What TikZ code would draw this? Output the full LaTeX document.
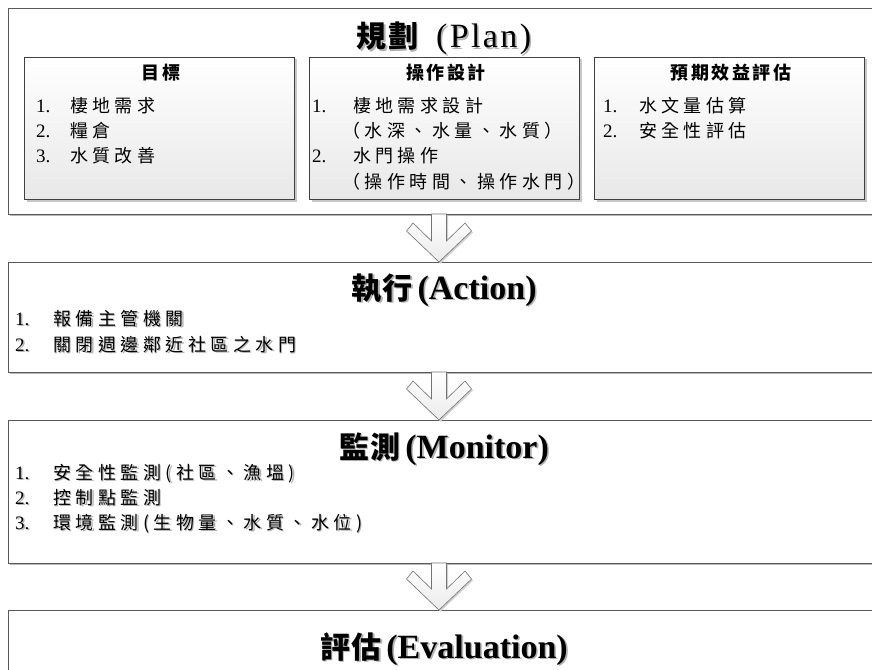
\documentclass[tikz,border=0pt]{standalone}
\usepackage{fontspec}
\setmainfont{Liberation Serif}
\newfontfamily\cjk{Noto Sans CJK TC}[LetterSpace=25]
\newfontfamily\cjkh{Noto Sans CJK TC}[LetterSpace=14]
\newfontfamily\cjkt{Noto Sans CJK TC}[LetterSpace=4]
\newfontfamily\numfont{Liberation Serif}
\newfontfamily\planfont{Liberation Serif}[LetterSpace=7]
\usetikzlibrary{shadows}
\newcommand\shd[2][black!30]{\makebox[0pt][l]{\hspace{1.6pt}\raisebox{-1.6pt}{\textcolor{#1}{#2}}}{#2}}
\newcommand\num[2]{\makebox[#1pt][l]{\numfont\fontsize{19}{22}\selectfont #2}}
\tikzset{
 outerbox/.style={draw=black!65, line width=0.8pt, fill=white, anchor=north west, inner sep=0pt, outer sep=0pt,
   drop shadow={shadow xshift=1.5pt, shadow yshift=-1.5pt, fill=black!28, opacity=1}},
 innerbox/.style={draw=black!75, line width=0.9pt, top color=white, bottom color=black!9, anchor=north west,
   inner sep=0pt, outer sep=0pt, minimum width=270pt, minimum height=142pt,
   drop shadow={shadow xshift=2.5pt, shadow yshift=-2.5pt, fill=black!22, opacity=1}},
 blockarr/.style={draw=black!55, line width=0.6pt, top color=white, bottom color=black!8,
   drop shadow={shadow xshift=1.5pt, shadow yshift=-1.5pt, fill=black!18, opacity=1}},
 txt/.style={inner sep=0pt, outer sep=0pt, anchor=base west, font=\cjk\fontsize{18}{22}\selectfont},
 head/.style={inner sep=0pt, outer sep=0pt, anchor=base, font=\cjkh\bfseries\fontsize{18}{22}\selectfont},
 title/.style={inner sep=0pt, outer sep=0pt, anchor=base},
}
\begin{document}
\begin{tikzpicture}[x=1pt, y=-1pt]
\useasboundingbox (0,0) rectangle (872,669);
\clip (0,0) rectangle (872,669);
\fill[white] (0,0) rectangle (872,669);

% outer boxes
\node[outerbox, minimum width=872pt, minimum height=206pt] (plan) at (8,8) {};
\node[outerbox, minimum width=872pt, minimum height=110pt] (act) at (8,262) {};
\node[outerbox, minimum width=872pt, minimum height=143pt] (mon) at (8,420) {};
\node[outerbox, minimum width=872pt, minimum height=100pt] (eva) at (8,610) {};

% inner boxes of the plan
\node[innerbox] (goal) at (24,57) {};
\node[innerbox] (ops) at (309,57) {};
\node[innerbox] (ben) at (594,57) {};

% block arrows
\coordinate (t1) at (439,262);
\coordinate (t2) at (439,420);
\coordinate (t3) at (439,610);
\foreach \t/\h in {t1/48, t2/48, t3/47}{
  \path[blockarr, shift={(\t)}] (0,0) -- (-32.5,-31) -- (-26,-39) -- (-7.5,-21) -- (-7.5,-\h)
    -- (7.5,-\h) -- (7.5,-21) -- (26,-39) -- (32.5,-31) -- cycle;
}

% titles
\node[title] (plantitle) at (444,48)
  {\shd{\cjkt\bfseries\fontsize{30}{36}\selectfont 規劃}\hspace{18pt}\shd{\planfont\fontsize{34}{40}\selectfont (Plan)}};
\node[title] (acttitle) at (444,299)
  {\shd{\cjkt\bfseries\fontsize{30}{36}\selectfont 執行}\hspace{5pt}\shd{\bfseries\fontsize{34}{40}\selectfont (Action)}};
\node[title] (montitle) at (444,458)
  {\shd{\cjkt\bfseries\fontsize{30}{36}\selectfont 監測}\hspace{5pt}\shd{\bfseries\fontsize{34}{40}\selectfont (Monitor)}};
\node[title] (evatitle) at (444,658)
  {\shd{\cjkt\bfseries\fontsize{30}{36}\selectfont 評估}\hspace{5pt}\shd{\bfseries\fontsize{34}{40}\selectfont (Evaluation)}};

% inner box headings
\node[head] (goalh) at (161,79) {目標};
\node[head] (opsh) at (446,79) {操作設計};
\node[head] (benh) at (731,79) {預期效益評估};

% goal items
\node[txt] (g1) at (36,112) {\num{34}{1.}棲地需求};
\node[txt] (g2) at (36,137) {\num{34}{2.}糧倉};
\node[txt] (g3) at (36,162) {\num{34}{3.}水質改善};

% operation items
\node[txt] (o1) at (312,112) {\num{41}{1.}棲地需求設計};
\node[txt] (o1b) at (342,137) {（水深、水量、水質）};
\node[txt] (o2) at (312,162) {\num{41}{2.}水門操作};
\node[txt] (o2b) at (342,188) {（操作時間、操作水門）};

% benefit items
\node[txt] (b1) at (603,112) {\num{36}{1.}水文量估算};
\node[txt] (b2) at (603,137) {\num{36}{2.}安全性評估};

% action items
\node[txt] (a1) at (15,325) {\shd{\num{38}{1.}報備主管機關}};
\node[txt] (a2) at (15,351) {\shd{\num{38}{2.}關閉週邊鄰近社區之水門}};

% monitor items
\node[txt] (m1) at (15,479) {\shd{\num{38}{1.}安全性監測(社區、漁塭)}};
\node[txt] (m2) at (15,504) {\shd{\num{38}{2.}控制點監測}};
\node[txt] (m3) at (15,529) {\shd{\num{38}{3.}環境監測(生物量、水質、水位)}};
\end{tikzpicture}
\end{document}
